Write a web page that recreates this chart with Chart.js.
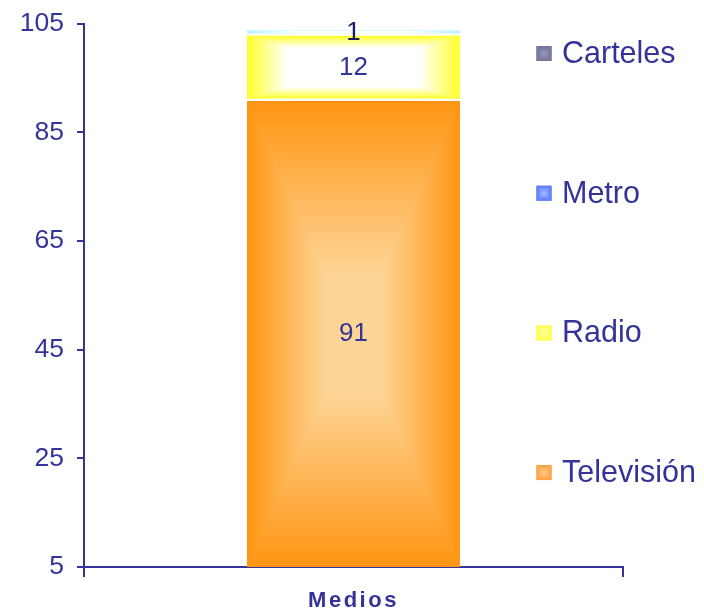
<!DOCTYPE html>
<html>
<head>
<meta charset="utf-8">
<script src="https://cdn.jsdelivr.net/npm/chart.js@4/dist/chart.umd.min.js"></script>
<style>
  html, body { margin: 0; padding: 0; background: #fff; }
  #wrap { width: 704px; height: 613px; }
</style>
</head>
<body>
<div id="wrap"><canvas id="chart" width="704" height="613"></canvas></div>
<script>
// datos
const categorias = ['Medios'];
const series = ['Televisión', 'Radio', 'Metro', 'Carteles'];
const television = [91];
const radio = [12];
const metro = [1];
const carteles = [0];
const ticksY = [5, 25, 45, 65, 85, 105];

// estilos
const AZUL = '#333399';
const FUENTE = '"Liberation Sans", Arial, sans-serif';
const barraBorde = ['#FF9512', '#FFFF2A', '#BDF1FF', '#6E6E99'];
const barraCentro = ['#FDD597', '#FFFFFF', '#FFFFFF', '#A0A0C0'];
const barraParada = [0.75, 0.38, 0.5, 0.5];
const leyendaBorde = ['#FF9E3D', '#FFFF40', '#5577FF', '#707099'];
const leyendaCentro = ['#FFCC8A', '#FFFFB0', '#A8B8FF', '#9898B8'];
const colorEtiqueta = [AZUL, AZUL, '#1C1C66', AZUL];

// degradado rectangular "desde el centro"
function pintarRect(ctx, x0, y0, x1, y1, borde, centro, parada) {
    if (y1 - y0 <= 0) return;
    const cx = (x0 + x1) / 2, cy = (y0 + y1) / 2;
    const grad = (ax, ay, bx, by) => {
        const g = ctx.createLinearGradient(ax, ay, bx, by);
        g.addColorStop(0, borde);
        g.addColorStop(parada, centro);
        g.addColorStop(1, centro);
        return g;
    };
    // base horizontal
    const base = ctx.createLinearGradient(x0, 0, x1, 0);
    base.addColorStop(0, borde);
    base.addColorStop(parada / 2, centro);
    base.addColorStop(1 - parada / 2, centro);
    base.addColorStop(1, borde);
    ctx.fillStyle = base;
    ctx.fillRect(x0, y0, x1 - x0, y1 - y0);
    const tri = (pts, g) => {
        ctx.beginPath();
        ctx.moveTo(pts[0], pts[1]);
        ctx.lineTo(pts[2], pts[3]);
        ctx.lineTo(cx, cy);
        ctx.closePath();
        ctx.fillStyle = g;
        ctx.fill();
    };
    tri([x0, y0, x0, y1], grad(x0, 0, cx, 0));
    tri([x1, y0, x1, y1], grad(x1, 0, cx, 0));
    tri([x0, y0, x1, y0], grad(0, y0, 0, cy));
    tri([x0, y1, x1, y1], grad(0, y1, 0, cy));
}

const pintarBarras = {
    id: 'pintarBarras',
    afterDatasetsDraw(chart) {
        const ctx = chart.ctx;
        const area = chart.chartArea;
        ctx.save();
        ctx.beginPath();
        ctx.rect(area.left, area.top, area.right - area.left, area.bottom - area.top);
        ctx.clip();
        const etiquetas = [];
        chart.data.datasets.forEach((ds, i) => {
            chart.getDatasetMeta(i).data.forEach((bar, j) => {
                const v = ds.data[j];
                if (!v) return;
                const p = bar.getProps(['x', 'y', 'base', 'width'], true);
                let top = Math.max(Math.min(p.y, p.base), area.top);
                let bottom = Math.min(Math.max(p.y, p.base), area.bottom);
                const x0 = p.x - p.width / 2, x1 = p.x + p.width / 2;
                const b = bottom >= area.bottom ? bottom : bottom - 1;
                pintarRect(ctx, x0, top + 1.5, x1, b, barraBorde[i], barraCentro[i], barraParada[i]);
                etiquetas.push([String(v), p.x, (top + bottom) / 2, colorEtiqueta[i]]);
            });
        });
        ctx.restore();
        ctx.save();
        ctx.font = '26px ' + FUENTE;
        ctx.textAlign = 'center';
        ctx.textBaseline = 'middle';
        etiquetas.forEach(([t, x, y, c]) => {
            ctx.fillStyle = c;
            ctx.fillText(t, x, y + 1);
        });
        ctx.restore();
    },
    afterDraw(chart) {
        const ctx = chart.ctx;
        const area = chart.chartArea;
        ctx.save();
        // titulo del eje x
        ctx.font = 'bold 22px ' + FUENTE;
        ctx.letterSpacing = '2.5px';
        ctx.fillStyle = AZUL;
        ctx.textAlign = 'center';
        ctx.textBaseline = 'alphabetic';
        ctx.fillText(categorias[0], (area.left + area.right) / 2, 607);
        ctx.letterSpacing = '0px';
        // leyenda (orden inverso, como en Excel)
        ctx.font = '30.5px ' + FUENTE;
        ctx.textAlign = 'left';
        ctx.textBaseline = 'middle';
        const n = chart.data.datasets.length;
        for (let k = 0; k < n; k++) {
            const i = n - 1 - k;
            const cy = 53.5 + k * 139.7;
            pintarRect(ctx, 536.5, cy - 7.5, 551.5, cy + 7.5, leyendaBorde[i], leyendaCentro[i], 1);
            ctx.fillStyle = AZUL;
            ctx.fillText(chart.data.datasets[i].label, 562, cy + 1);
        }
        ctx.restore();
    }
};

const valores = [television, radio, metro, carteles];

new Chart(document.getElementById('chart'), {
    type: 'bar',
    data: {
        labels: categorias,
        datasets: series.map((nombre, i) => ({
            label: nombre,
            data: valores[i],
            backgroundColor: 'rgba(0,0,0,0)',
            borderWidth: 0,
            barPercentage: 0.395,
            categoryPercentage: 1
        }))
    },
    options: {
        responsive: false,
        animation: false,
        events: [],
        layout: { padding: { top: 23.5, right: 81, bottom: 0, left: 0 } },
        plugins: {
            legend: { display: false },
            tooltip: { enabled: false }
        },
        scales: {
            x: {
                stacked: true,
                z: 1,
                grid: {
                    display: true,
                    drawOnChartArea: false,
                    drawTicks: true,
                    tickLength: 10,
                    tickColor: AZUL,
                    color: AZUL,
                    lineWidth: 2,
                    offset: true
                },
                border: { color: AZUL, width: 2 },
                ticks: { display: false },
                afterFit: s => { s.height = 46; s.paddingLeft = 0; s.paddingRight = 0; }
            },
            y: {
                stacked: true,
                z: 1,
                min: ticksY[0],
                max: ticksY[ticksY.length - 1],
                afterBuildTicks: s => { s.ticks = ticksY.map(v => ({ value: v })); },
                ticks: {
                    color: AZUL,
                    padding: 13,
                    font: { size: 26.5, family: FUENTE }
                },
                grid: {
                    drawOnChartArea: false,
                    tickLength: 7,
                    tickColor: AZUL,
                    color: AZUL,
                    lineWidth: 2
                },
                border: { color: AZUL, width: 2 },
                afterFit: s => { s.width = 84; s.paddingTop = 0; s.paddingBottom = 0; }
            }
        }
    },
    plugins: [pintarBarras]
});
</script>
</body>
</html>
